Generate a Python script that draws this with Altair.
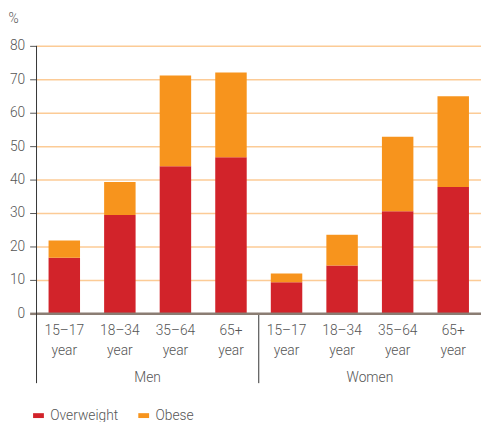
import altair as alt
import pandas as pd

cats = ["M1", "M2", "M3", "M4", "W1", "W2", "W3", "W4"]
age_labels = ["15–17\nyear", "18–34\nyear", "35–64\nyear", "65+\nyear"] * 2
overweight = [16.6, 29.4, 44.0, 46.7, 9.3, 14.3, 30.5, 37.8]
obese = [5.2, 9.9, 27.1, 25.3, 2.6, 9.2, 22.3, 27.1]
groups = ["Men", "Women"]
group_anchor = ["M3", "W3"]
series = ["Overweight", "Obese"]
colors = ["#D2232A", "#F7941D"]

FONT = "Roboto"
FW = 300
TXT = "#555555"

rows = []
for c, ov, ob in zip(cats, overweight, obese):
    rows.append({"cat": c, "series": "Overweight", "value": ov, "ord": 0})
    rows.append({"cat": c, "series": "Obese", "value": ob, "ord": 1})
df = pd.DataFrame(rows)
lab_df = pd.DataFrame({"cat": cats, "label": age_labels})
grp_df = pd.DataFrame({"cat": group_anchor, "label": groups})
sep_df = pd.DataFrame({"cat": ["M1", "W1"], "value": [80, 0]})

H = 272
W = 452

xscale = alt.Scale(domain=cats, paddingInner=0, paddingOuter=0)
yscale = alt.Scale(domain=[0, 80], nice=False)

yaxis = alt.Axis(values=list(range(0, 81, 10)), title="%", titleAngle=0,
                 titleX=-29, titleY=-28, titleAlign="left", titleBaseline="middle",
                 titleFont=FONT, titleFontSize=14, titleFontWeight=FW,
                 titleColor=TXT, labelFont=FONT, labelFontSize=14, labelFontWeight=FW,
                 labelColor=TXT, labelOverlap=False,
                 labelPadding=5, tickSize=7, domain=False,
                 tickColor={"condition": {"test": "datum.value === 0", "value": "#8B7D73"}, "value": "#555555"},
                 tickWidth={"condition": {"test": "datum.value === 0", "value": 2.5}, "value": 1},
                 gridColor="#FCCB96", gridWidth=1.5)
xaxis = alt.Axis(labels=False, ticks=False, title=None, domainColor="#8B7D73",
                 domainWidth=2.5, zindex=1)

bars = alt.Chart(df).mark_bar(size=32).encode(
    x=alt.X("cat:N", scale=xscale, sort=cats, axis=xaxis),
    y=alt.Y("value:Q", stack="zero", scale=yscale, axis=yaxis, title="%"),
    color=alt.Color("series:N", scale=alt.Scale(domain=series, range=colors),
                    legend=alt.Legend(orient="none", direction="horizontal", title=None,
                                      legendX=-5, legendY=369,
                                      symbolType="M-1,-0.45L1,-0.45L1,0.45L-1,0.45Z",
                                      symbolSize=121, symbolStrokeWidth=0,
                                      labelFont=FONT, labelFontSize=14, labelFontWeight=FW,
                                      labelColor=TXT, labelOffset=5, columnPadding=18)),
    order=alt.Order("ord:Q"),
)

labels = alt.Chart(lab_df).mark_text(
    baseline="top", align="center", lineBreak="\n", lineHeight=20,
    font=FONT, fontSize=14, fontWeight=FW, color=TXT
).encode(
    x=alt.X("cat:N", scale=xscale, sort=cats, axis=xaxis),
    y=alt.value(H + 11),
    text="label:N",
)

glabels = alt.Chart(grp_df).mark_text(
    baseline="middle", align="center", font=FONT, fontSize=14, fontWeight=FW, color=TXT
).encode(
    x=alt.X("cat:N", scale=xscale, sort=cats, bandPosition=0, axis=xaxis),
    y=alt.value(H + 66),
    text="label:N",
)

seps = alt.Chart(sep_df).mark_rule(color="#333333", strokeWidth=1).encode(
    x=alt.X("cat:N", scale=xscale, sort=cats, bandPosition=0, axis=xaxis),
    y=alt.Y("value:Q", scale=yscale, axis=yaxis, title="%"),
    y2=alt.value(H + 71),
)

chart = alt.layer(bars, seps, labels, glabels).properties(
    width=W, height=H,
    autosize=alt.AutoSizeParams(type="none"),
    padding={"left": 29, "top": 35, "right": 0, "bottom": 107},
).configure_view(stroke=None)

chart.save("out.html", embed_options={"renderer": "svg", "actions": False})
